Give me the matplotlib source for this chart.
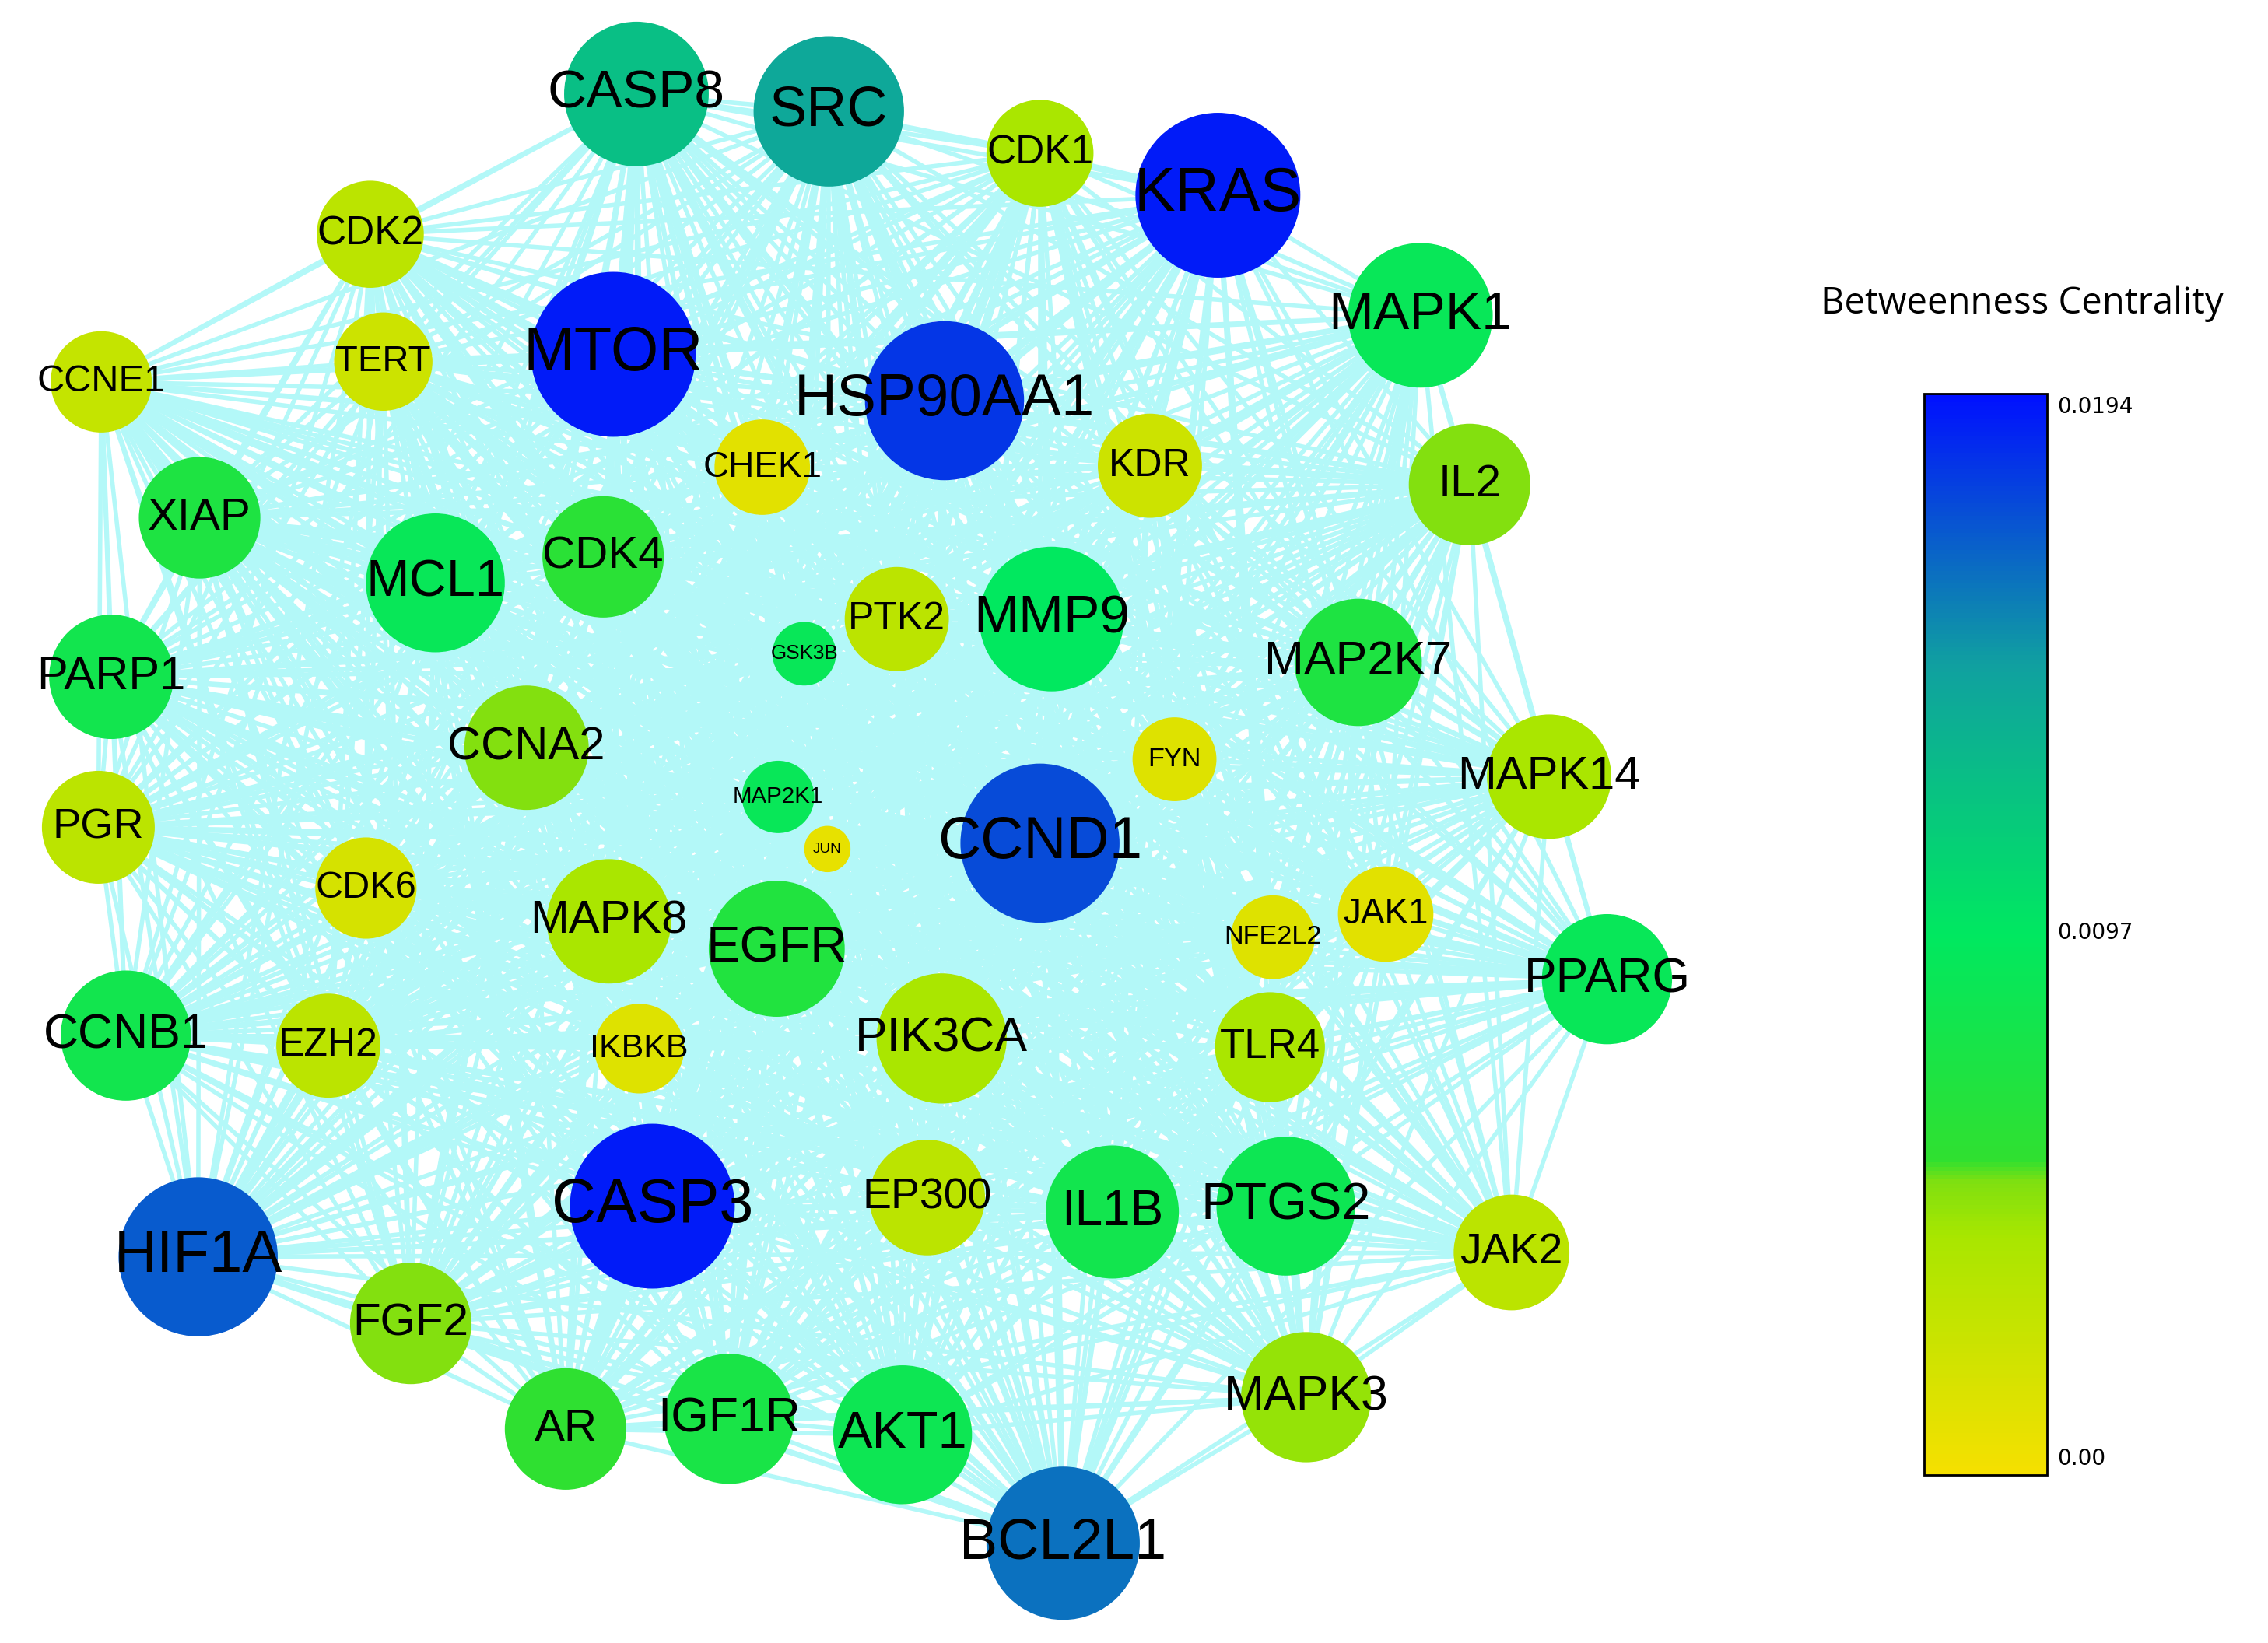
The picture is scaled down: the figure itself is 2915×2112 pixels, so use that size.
import numpy as np
import matplotlib
matplotlib.use("Agg")
import matplotlib.pyplot as plt
from matplotlib.patches import Circle
from matplotlib.collections import LineCollection
from matplotlib.colors import LinearSegmentedColormap, Normalize
from itertools import combinations

names = ["CASP8","SRC","CDK1","KRAS","CDK2","MAPK1","TERT","MTOR","HSP90AA1","CCNE1",
         "CHEK1","KDR","IL2","XIAP","MCL1","CDK4","GSK3B","PTK2","MMP9","MAP2K7",
         "PARP1","CCNA2","FYN","MAPK14","MAP2K1","JUN","CCND1","PGR","CDK6","MAPK8",
         "EGFR","NFE2L2","JAK1","PPARG","CCNB1","EZH2","IKBKB","PIK3CA","TLR4","CASP3",
         "EP300","IL1B","PTGS2","JAK2","HIF1A","FGF2","MAPK3","AR","IGF1R","AKT1","BCL2L1"]
pos_x = [440,573,719,842,256,982,265,424,653,70,527,795,1016,138,301,417,556,620,727,939,
         77,364,812,1071,538,572,719,68,253,421,537,880,958,1111,87,227,442,651,878,451,
         641,769,889,1045,137,284,903,391,504,624,735]
pos_y = [65,77,106,135,162,218,250,245,277,264,323,322,335,358,403,385,452,428,428,458,
         468,517,525,537,551,587,583,572,614,637,656,648,632,677,716,723,725,718,724,834,
         828,838,834,866,869,915,966,988,981,992,1067]
radius = [50,52,37,57,37,50,34,57,55,35,33,36,42,42,48,42,22,36,50,44,
          43,43,29,43,25,16,55,39,35,43,47,29,33,45,45,36,31,45,38,57,
          40,46,48,40,55,42,45,42,45,48,53]
betweenness = [0.0125,0.0140,0.0040,0.0192,0.0030,0.0090,0.0020,0.0192,0.0182,0.0025,
               0.0008,0.0020,0.0050,0.0070,0.0090,0.0060,0.0090,0.0030,0.0095,0.0070,
               0.0080,0.0050,0.0010,0.0040,0.0090,0.0005,0.0175,0.0030,0.0015,0.0040,
               0.0068,0.0010,0.0008,0.0090,0.0080,0.0030,0.0010,0.0040,0.0040,0.0192,
               0.0030,0.0080,0.0085,0.0030,0.0170,0.0050,0.0045,0.0055,0.0075,0.0085,0.0162]
cbar_ticks = [0.0, 0.0097, 0.0194]
cbar_labels = ["0.00", "0.0097", "0.0194"]

cmap = LinearSegmentedColormap.from_list("bc", [
    (0.0, "#f5e000"), (0.22, "#a8e600"), (0.27, "#80e010"), (0.29, "#30e030"),
    (0.5, "#00e860"), (0.75, "#10a0a0"), (1.0, "#0010ff")])
norm = Normalize(-0.00035, 0.0196)

fig = plt.figure(figsize=(29.15, 21.12), dpi=100)
ax = fig.add_axes([0, 0, 1, 1])
ax.set_xlim(0, 1568)
ax.set_ylim(1136, 0)
ax.axis("off")

segs = [[(pos_x[i], pos_y[i]), (pos_x[j], pos_y[j])] for i, j in combinations(range(len(names)), 2)]
ax.add_collection(LineCollection(segs, colors="#b3f8f8", linewidths=4, zorder=1))

for n, x, y, r, b in zip(names, pos_x, pos_y, radius, betweenness):
    ax.add_patch(Circle((x, y), r, facecolor=cmap(norm(b)), edgecolor="none", zorder=2))
    fs = r * 1.0 if r > 30 else r * 0.85
    ax.text(x, y, n, ha="center", va="center", fontsize=fs, color="black",
            family="Liberation Sans", zorder=3)

cax = fig.add_axes([1330/1568, 1 - 1020/1136, 85/1568, 748/1136])
sm = matplotlib.cm.ScalarMappable(norm=norm, cmap=cmap)
cb = fig.colorbar(sm, cax=cax)
cb.set_ticks(cbar_ticks)
cb.set_ticklabels(cbar_labels)
cb.ax.tick_params(labelsize=20, length=0, pad=10)
cb.outline.set_linewidth(2)
fig.text(1398/1568, 1 - 210/1136, "Betweenness Centrality", ha="center", va="center",
         fontsize=34, family="Open Sans")

fig.savefig("out.png", dpi=100)
